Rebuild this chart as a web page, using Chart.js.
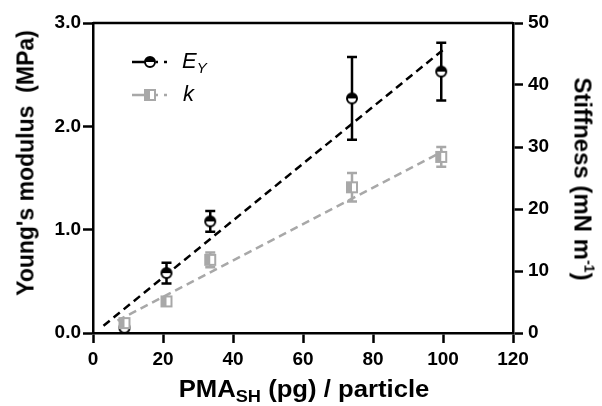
<!DOCTYPE html>
<html>
<head>
<meta charset="utf-8">
<script src="https://cdn.jsdelivr.net/npm/chart.js@4.4.1/dist/chart.umd.min.js"></script>
<style>
    body { margin: 0; background: #fff; }
    #wrap { position: relative; width: 602px; height: 406px; font-family: 'Liberation Sans', Arial, sans-serif; color: #000; }
    #chart { position: absolute; left: 0; top: 0; }
    .title { position: absolute; font-weight: bold; font-size: 23px; white-space: nowrap; }
    #titleLeft { left: 26px; top: 163px; transform: translate(-50%, -50%) rotate(-90deg); }
    #titleRight { left: 583px; top: 179px; font-size: 24px; transform: translate(-50%, -50%) rotate(90deg); }
    #titleX { left: 304px; top: 391px; font-size: 24px; transform: translate(-50%, -50%) scaleX(1.07); }
    .title sub { font-size: 17px; vertical-align: -5px; }
    .title sup { font-size: 14px; vertical-align: 10px; }
    .leg { position: absolute; font-style: italic; font-size: 22px; white-space: nowrap; }
    .leg sub { font-size: 15px; vertical-align: -5px; }
</style>
</head>
<body>
<div id="wrap">
    <canvas id="chart" width="602" height="406"></canvas>
    <div class="title" id="titleLeft">Young's modulus&nbsp; (MPa)</div>
    <div class="title" id="titleRight">Stiffness (mN m<sup>-1</sup>)</div>
    <div class="title" id="titleX">PMA<sub>SH</sub> (pg) / particle</div>
    <div class="leg" style="left:182px; top:48px;">E<sub>Y</sub></div>
    <div class="leg" style="left:183px; top:81px;">k</div>
</div>
<script>
// --- DATA ---
const pmaX = [9, 21, 33.5, 74, 99.5];          // pg / particle
const youngVals = [0.05, 0.58, 1.08, 2.27, 2.53]; // MPa
const youngErr = [0.02, 0.10, 0.10, 0.40, 0.28];
const stiffVals = [1.6, 5.1, 11.8, 23.5, 28.4];   // mN/m
const stiffErr = [0.5, 0.4, 1.2, 2.3, 1.6];

// linear fits (end points)
const fitYoungX = [3, 100];
const fitYoungY = [0.07, 2.74];
const fitStiffX = [7, 100];
const fitStiffY = [2.0, 29.3];

const xTicks = [0, 20, 40, 60, 80, 100, 120];

const GRAY = '#a8a8a8';
const AXIS_W = 2.5;

// --- MARKERS (half filled) ---
function circleMarker() {
    const c = document.createElement('canvas');
    c.width = 14; c.height = 14;
    const g = c.getContext('2d');
    g.beginPath(); g.arc(7, 7, 5, 0, 2 * Math.PI); g.fillStyle = '#fff'; g.fill();
    g.beginPath(); g.arc(7, 7, 5, Math.PI, 2 * Math.PI); g.closePath(); g.fillStyle = '#000'; g.fill();
    g.beginPath(); g.arc(7, 7, 5, 0, 2 * Math.PI); g.lineWidth = 2; g.strokeStyle = '#000'; g.stroke();
    return c;
}

function squareMarker() {
    const c = document.createElement('canvas');
    c.width = 14; c.height = 14;
    const g = c.getContext('2d');
    g.fillStyle = '#fff'; g.fillRect(2, 2, 10, 10);
    g.fillStyle = GRAY; g.fillRect(2, 2, 5, 10);
    g.lineWidth = 2; g.strokeStyle = GRAY; g.strokeRect(2, 2, 10, 10);
    return c;
}

const circleImg = circleMarker();
const squareImg = squareMarker();

// --- PLUGINS ---
function drawErrors(ctx, xs, ys, vals, errs, color) {
    ctx.save();
    ctx.strokeStyle = color;
    ctx.lineWidth = 2.5;
    pmaX.forEach((x, i) => {
        const px = xs.getPixelForValue(x);
        const top = ys.getPixelForValue(vals[i] + errs[i]);
        const bot = ys.getPixelForValue(vals[i] - errs[i]);
        ctx.beginPath();
        ctx.moveTo(px, top); ctx.lineTo(px, bot);
        ctx.moveTo(px - 5, top); ctx.lineTo(px + 5, top);
        ctx.moveTo(px - 5, bot); ctx.lineTo(px + 5, bot);
        ctx.stroke();
    });
    ctx.restore();
}

const errorBars = {
    id: 'errorBars',
    beforeDatasetsDraw(chart) {
        const { ctx, scales } = chart;
        drawErrors(ctx, scales.x, scales.y2, stiffVals, stiffErr, GRAY);
        drawErrors(ctx, scales.x, scales.y, youngVals, youngErr, '#000');
    }
};

// top edge of the box + legend samples
const frameAndLegend = {
    id: 'frameAndLegend',
    afterDraw(chart) {
        const { ctx, chartArea } = chart;
        ctx.save();
        ctx.strokeStyle = '#000';
        ctx.lineWidth = AXIS_W;
        ctx.beginPath();
        ctx.moveTo(chartArea.left, chartArea.top);
        ctx.lineTo(chartArea.right, chartArea.top);
        ctx.stroke();

        const rows = [
            { y: 62, color: '#000', img: circleImg },
            { y: 95, color: GRAY, img: squareImg }
        ];
        rows.forEach(r => {
            ctx.strokeStyle = r.color;
            ctx.lineWidth = 2.5;
            ctx.beginPath();
            ctx.moveTo(132, r.y); ctx.lineTo(145, r.y);
            ctx.moveTo(156, r.y); ctx.lineTo(158, r.y);
            ctx.moveTo(164, r.y); ctx.lineTo(167, r.y);
            ctx.stroke();
            ctx.drawImage(r.img, 150 - 7, r.y - 7);
        });
        ctx.restore();
    }
};

// --- CHART ---
const tickFont = { family: "'Liberation Sans', Arial, sans-serif", size: 19, weight: 'bold' };

function axisGrid() {
    return { display: true, drawOnChartArea: false, drawTicks: true, tickLength: 10, tickColor: '#000', tickWidth: AXIS_W };
}

new Chart(document.getElementById('chart'), {
    type: 'scatter',
    data: {
        datasets: [
            {
                label: 'k',
                data: pmaX.map((x, i) => ({ x: x, y: stiffVals[i] })),
                yAxisID: 'y2',
                pointStyle: squareImg,
                order: 0
            },
            {
                label: 'E_Y',
                data: pmaX.map((x, i) => ({ x: x, y: youngVals[i] })),
                yAxisID: 'y',
                pointStyle: circleImg,
                order: 1
            },
            {
                label: 'fit E_Y',
                data: fitYoungX.map((x, i) => ({ x: x, y: fitYoungY[i] })),
                yAxisID: 'y',
                showLine: true,
                pointRadius: 0,
                borderColor: '#000',
                borderWidth: 2.5,
                borderDash: [8, 5],
                order: 2
            },
            {
                label: 'fit k',
                data: fitStiffX.map((x, i) => ({ x: x, y: fitStiffY[i] })),
                yAxisID: 'y2',
                showLine: true,
                pointRadius: 0,
                borderColor: GRAY,
                borderWidth: 2.5,
                borderDash: [8, 5],
                order: 3
            }
        ]
    },
    options: {
        responsive: false,
        animation: false,
        devicePixelRatio: 1,
        layout: { padding: { top: 23, left: 0, right: 0, bottom: 0 } },
        plugins: { legend: { display: false }, tooltip: { enabled: false } },
        scales: {
            x: {
                type: 'linear', min: 0, max: 120,
                afterBuildTicks: s => { s.ticks = xTicks.map(v => ({ value: v })); },
                afterFit: s => { s.height = 73; },
                ticks: { font: tickFont, color: '#000', padding: 5, maxRotation: 0 },
                grid: axisGrid(),
                border: { color: '#000', width: AXIS_W }
            },
            y: {
                position: 'left', min: 0, max: 3,
                afterFit: s => { s.width = 93; },
                ticks: { stepSize: 1, font: tickFont, color: '#000', padding: 2, callback: v => v.toFixed(1) },
                grid: axisGrid(),
                border: { color: '#000', width: AXIS_W }
            },
            y2: {
                position: 'right', min: 0, max: 50,
                afterFit: s => { s.width = 89; },
                ticks: { stepSize: 10, font: tickFont, color: '#000', padding: 5 },
                grid: axisGrid(),
                border: { color: '#000', width: AXIS_W }
            }
        }
    },
    plugins: [errorBars, frameAndLegend]
});
</script>
</body>
</html>
